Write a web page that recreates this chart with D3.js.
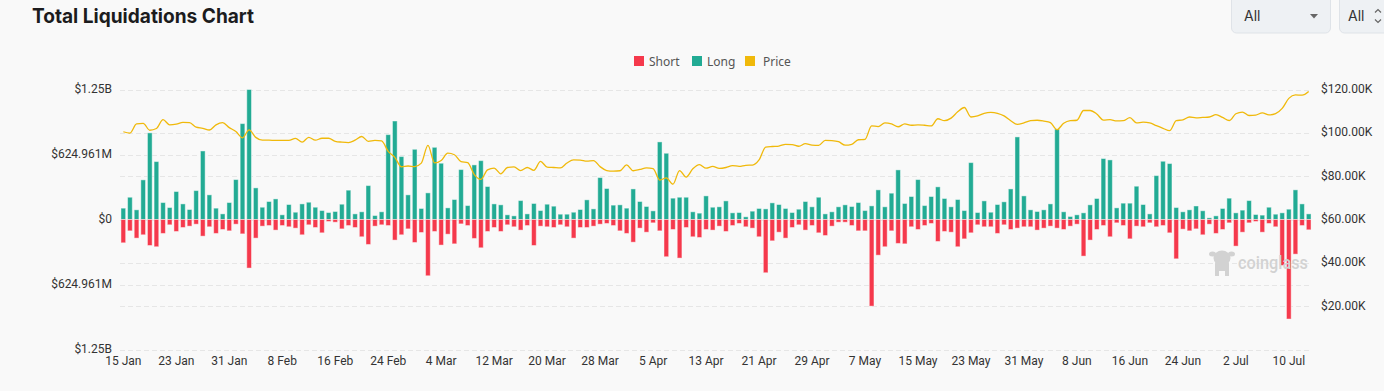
<!DOCTYPE html>
<html>
<head>
<meta charset="utf-8">
<script src="https://cdn.jsdelivr.net/npm/d3@7"></script>
<style>
  html, body { margin: 0; padding: 0; background: #f9f9f9; }
  svg { display: block; font-family: Inter, "Noto Sans", sans-serif; }
</style>
</head>
<body>
<svg id="chart" width="1384" height="391"></svg>
<script>
// daily categories, 15 Jan 2025 .. 13 Jul 2025
const firstDay = new Date(2025, 0, 15)
const lastDay = new Date(2025, 6, 14)

// long liquidations, $M
const longValues = [
  109, 214, 93, 381, 833, 557, 163, 115, 269, 150, 96, 278, 659, 237, 109, 54, 163, 384, 922, 1249.922, 304,
  118, 173, 198, 45, 144, 70, 150, 166, 118, 86, 67, 77, 147, 282, 54, 74, 326, 38, 74, 816, 947, 605, 237,
  675, 106, 256, 694, 541, 112, 192, 480, 134, 525, 566, 317, 150, 141, 45, 35, 182, 54, 154, 86, 147, 128,
  51, 51, 70, 96, 189, 102, 403, 298, 138, 141, 109, 294, 173, 125, 83, 746, 637, 205, 214, 214, 74, 61, 227,
  118, 122, 179, 64, 67, 26, 80, 106, 102, 160, 144, 106, 67, 99, 173, 122, 214, 54, 74, 122, 141, 125, 163,
  86, 131, 285, 122, 253, 477, 154, 221, 384, 134, 221, 314, 202, 122, 192, 86, 547, 67, 179, 70, 144, 170, 294,
  794, 227, 93, 77, 93, 150, 870, 74, 29, 45, 64, 141, 202, 586, 573, 112, 157, 157, 320, 144, 54, 422,
  560, 538, 115, 74, 93, 130, 84, 16, 35, 106, 205, 64, 90, 182, 48, 42, 118, 51, 64, 99, 285, 150, 54
]

// short liquidations, $M
const shortValues = [
  224, 109, 179, 147, 250, 262, 134, 51, 115, 77, 64, 45, 160, 70, 134, 96, 109, 45, 138, 467, 179,
  64, 58, 102, 58, 70, 83, 147, 51, 77, 128, 19, 26, 90, 58, 77, 166, 240, 64, 51, 58, 198, 147, 90,
  221, 125, 541, 115, 246, 141, 234, 42, 58, 182, 272, 115, 77, 115, 51, 70, 102, 58, 250, 64, 70, 77,
  51, 70, 179, 77, 77, 64, 45, 38, 58, 109, 134, 218, 83, 122, 32, 109, 358, 96, 371, 77, 166, 173, 96,
  102, 64, 115, 58, 38, 70, 83, 166, 512, 205, 122, 179, 77, 51, 102, 58, 128, 154, 64, 26, 26, 58, 109,
  109, 833, 343, 262, 109, 230, 234, 70, 96, 58, 38, 211, 115, 122, 262, 186, 128, 51, 70, 70, 134, 51, 96,
  83, 70, 70, 102, 83, 64, 83, 96, 64, 45, 352, 198, 96, 58, 166, 32, 58, 186, 64, 70, 32, 70,
  58, 128, 378, 93, 109, 90, 147, 45, 134, 96, 32, 256, 122, 32, 19, 122, 38, 70, 442, 957, 333, 58, 99
]

// BTC price, $K
const priceValues = [
  100.5, 99.9, 104.1, 104.4, 101.2, 102.0, 106.1, 103.7, 104.0, 104.8, 104.7, 102.6, 102.1, 101.3, 103.7, 104.7, 102.4,
  100.6, 97.7, 101.4, 97.9, 96.6, 96.6, 96.5, 96.5, 96.5, 97.4, 95.7, 97.9, 96.6, 97.5, 97.5, 96.1, 95.7, 95.5, 96.6, 98.3, 96.1, 96.5, 96.3, 91.4, 88.7, 84.3, 84.7, 84.4,
  86.0, 94.2, 86.1, 87.2, 90.6, 89.9, 86.7, 86.2, 80.7, 78.5, 82.9, 83.7, 81.1, 84.0, 84.3, 82.6, 84.0, 82.7, 86.8, 84.2, 84.0, 83.8, 86.1, 87.5, 87.4, 86.9, 87.2, 84.4, 82.6, 82.3, 82.5,
  85.2, 82.5, 83.1, 83.8, 83.5, 78.2, 79.2, 76.3, 82.6, 79.6, 83.4, 85.3, 83.7, 84.5, 83.6, 84.0, 84.9, 84.5, 85.0, 85.1, 87.5, 93.4, 93.7, 93.9, 94.7, 94.6, 93.8, 95.0, 94.3, 94.2,
  96.5, 96.4, 95.9, 94.3, 94.7, 96.8, 97.0, 103.2, 102.9, 104.6, 104.1, 102.8, 104.1, 103.5, 103.7, 103.5, 103.2, 106.5, 105.6, 106.8, 109.7, 111.7, 107.3, 107.8, 109.0, 109.4, 109.0, 107.8, 105.6, 103.9, 104.6,
  105.6, 105.8, 105.4, 104.7, 101.5, 104.4, 105.6, 105.8, 110.3, 110.3, 108.7, 105.9, 106.1, 105.5, 105.6, 107.0, 104.6, 104.9, 104.6, 103.3, 102.1, 101.0, 105.6, 106.0, 107.3, 106.9, 107.1, 107.3, 108.4, 107.1,
  105.7, 108.8, 109.6, 108.0, 108.2, 109.2, 108.3, 108.9, 111.3, 115.9, 117.5, 117.4, 119.1
]

const liqMax = 1249.922
const leftTicks = [-liqMax, -liqMax / 2, 0, liqMax / 2, liqMax]
const rightTicks = [20, 40, 60, 80, 100, 120]
const tickEvery = 8
const legendNames = ['Short', 'Long', 'Price']

const colors = { short: '#f5394c', long: '#22ab94', price: '#f0b90b' }

const days = d3.timeDay.range(firstDay, lastDay)
const rows = days.map((d, i) => ({ date: d, long: longValues[i], short: shortValues[i], price: priceValues[i] }))

const svg = d3.select('#chart')
const plot = { left: 120, right: 1312, top: 89.5, bottom: 349.5 }

const x = d3.scaleBand()
  .domain(days)
  .range([plot.left, plot.right])
  .paddingInner(0.14)
  .paddingOuter(0.07)

const yLiq = d3.scaleLinear().domain([-liqMax, liqMax]).range([plot.bottom, plot.top])
const yPrice = d3.scaleLinear().domain([0, 120]).range([plot.bottom, plot.top])

// grid
const gridYs = leftTicks.map(yLiq).concat(rightTicks.map(yPrice))
svg.append('g').selectAll('line')
  .data(gridYs)
  .enter().append('line')
    .attr('x1', plot.left).attr('x2', plot.right)
    .attr('y1', d => Math.round(d) + 0.5).attr('y2', d => Math.round(d) + 0.5)
    .attr('stroke', '#e6e6e6')
    .attr('stroke-dasharray', '5,3')

// bars
const bw = x.bandwidth()
const bars = svg.append('g')
bars.selectAll('.long')
  .data(rows)
  .enter().append('rect')
    .attr('class', 'long')
    .attr('x', d => x(d.date) + 0.5)
    .attr('width', bw - 1)
    .attr('y', d => yLiq(d.long))
    .attr('height', d => yLiq(0) - yLiq(d.long))
    .attr('fill', colors.long)
    .attr('stroke', 'rgba(255,255,255,0.45)')

bars.selectAll('.short')
  .data(rows)
  .enter().append('rect')
    .attr('class', 'short')
    .attr('x', d => x(d.date) + 0.5)
    .attr('width', bw - 1)
    .attr('y', yLiq(0))
    .attr('height', d => yLiq(-d.short) - yLiq(0))
    .attr('fill', colors.short)
    .attr('stroke', 'rgba(255,255,255,0.45)')

// price line
const line = d3.line()
  .x(d => x(d.date) + bw / 2)
  .y(d => yPrice(d.price))
  .curve(d3.curveMonotoneX)

svg.append('path')
  .datum(rows)
  .attr('d', line)
  .attr('fill', 'none')
  .attr('stroke', colors.price)
  .attr('stroke-width', 1.3)

// axes
const fmtLiq = v => {
  const a = Math.abs(v)
  if (a === 0) return '$0'
  if (a >= 1000) return '$' + (a / 1000).toFixed(2) + 'B'
  return '$' + a.toFixed(3) + 'M'
}

const leftAxis = d3.axisLeft(yLiq).tickValues(leftTicks).tickFormat(fmtLiq).tickSize(0).tickPadding(0)
svg.append('g')
  .attr('transform', `translate(112,-1)`)
  .call(leftAxis)
  .call(g => g.select('.domain').remove())
  .selectAll('text')
    .attr('font-family', 'Roboto, sans-serif')
    .attr('font-size', 12)
    .attr('fill', '#333')

const rightAxis = d3.axisRight(yPrice).tickValues(rightTicks).tickFormat(v => '$' + v.toFixed(2) + 'K').tickSize(0).tickPadding(0)
svg.append('g')
  .attr('transform', `translate(1321,-1)`)
  .call(rightAxis)
  .call(g => g.select('.domain').remove())
  .selectAll('text')
    .attr('font-family', 'Roboto, sans-serif')
    .attr('font-size', 12)
    .attr('fill', '#333')

const xTicks = days.filter((d, i) => i % tickEvery === 0)
const bottomAxis = d3.axisBottom(x).tickValues(xTicks).tickFormat(d3.timeFormat('%-d %b')).tickSize(0).tickPadding(0)
svg.append('g')
  .attr('transform', `translate(0,356)`)
  .call(bottomAxis)
  .call(g => g.select('.domain').remove())
  .selectAll('text')
    .attr('font-family', 'Roboto, sans-serif')
    .attr('font-size', 12)
    .attr('fill', '#333')

// title
svg.append('text')
  .attr('x', 32).attr('y', 23)
  .attr('font-size', 20)
  .attr('font-weight', 700)
  .attr('fill', '#1c1c1e')
  .attr('textLength', 222)
  .attr('lengthAdjust', 'spacingAndGlyphs')
  .text('Total Liquidations Chart')

// legend
const legendX = [634, 692, 745]
const legendTextX = [649, 707, 763]
const legendColors = [colors.short, colors.long, colors.price]
const legend = svg.append('g').selectAll('g')
  .data(legendNames)
  .enter().append('g')
legend.append('rect')
  .attr('x', (d, i) => legendX[i]).attr('y', 56)
  .attr('width', 10).attr('height', 10)
  .attr('fill', (d, i) => legendColors[i])
legend.append('text')
  .attr('x', (d, i) => legendTextX[i]).attr('y', 65.5)
  .attr('font-family', '"Noto Sans", sans-serif')
  .attr('font-size', 12)
  .attr('fill', '#555')
  .text(d => d)

// selectors top right
const sel = svg.append('g')
sel.append('rect')
  .attr('x', 1231.5).attr('y', -6).attr('width', 99).attr('height', 39).attr('rx', 5)
  .attr('fill', '#eef1f4').attr('stroke', '#dfe3e8')
sel.append('text').attr('x', 1244).attr('y', 21).attr('font-size', 14).attr('fill', '#333').text('All')
sel.append('path').attr('d', 'M1310,14 L1318,14 L1314,18.5 Z').attr('fill', '#666')
sel.append('rect')
  .attr('x', 1339.5).attr('y', -6).attr('width', 60).attr('height', 39).attr('rx', 5)
  .attr('fill', '#eef1f4').attr('stroke', '#dfe3e8')
sel.append('text').attr('x', 1348).attr('y', 21).attr('font-size', 14).attr('fill', '#333').text('All')
sel.append('path').attr('d', 'M1375,12.5 L1378,9.5 L1381,12.5 M1375,19.5 L1378,22.5 L1381,19.5')
  .attr('fill', 'none').attr('stroke', '#666').attr('stroke-width', 1.2)

// watermark
const wm = svg.append('g').attr('fill', '#d2d2d2')
wm.append('ellipse').attr('cx', 1222).attr('cy', 258).attr('rx', 8.5).attr('ry', 7.5)
wm.append('ellipse').attr('cx', 1212.5).attr('cy', 254).attr('rx', 3.5).attr('ry', 2.5)
wm.append('ellipse').attr('cx', 1231.5).attr('cy', 254).attr('rx', 3.5).attr('ry', 2.5)
wm.append('rect').attr('x', 1215).attr('y', 261).attr('width', 14).attr('height', 10).attr('rx', 3)
wm.append('rect').attr('x', 1215).attr('y', 268).attr('width', 4).attr('height', 8)
wm.append('rect').attr('x', 1225).attr('y', 268).attr('width', 4).attr('height', 8)
wm.append('text')
  .attr('x', 1238).attr('y', 269)
  .attr('font-family', 'Roboto, sans-serif')
  .attr('font-size', 19)
  .attr('font-weight', 500)
  .attr('textLength', 70)
  .attr('lengthAdjust', 'spacingAndGlyphs')
  .text('coinglass')
</script>
</body>
</html>
